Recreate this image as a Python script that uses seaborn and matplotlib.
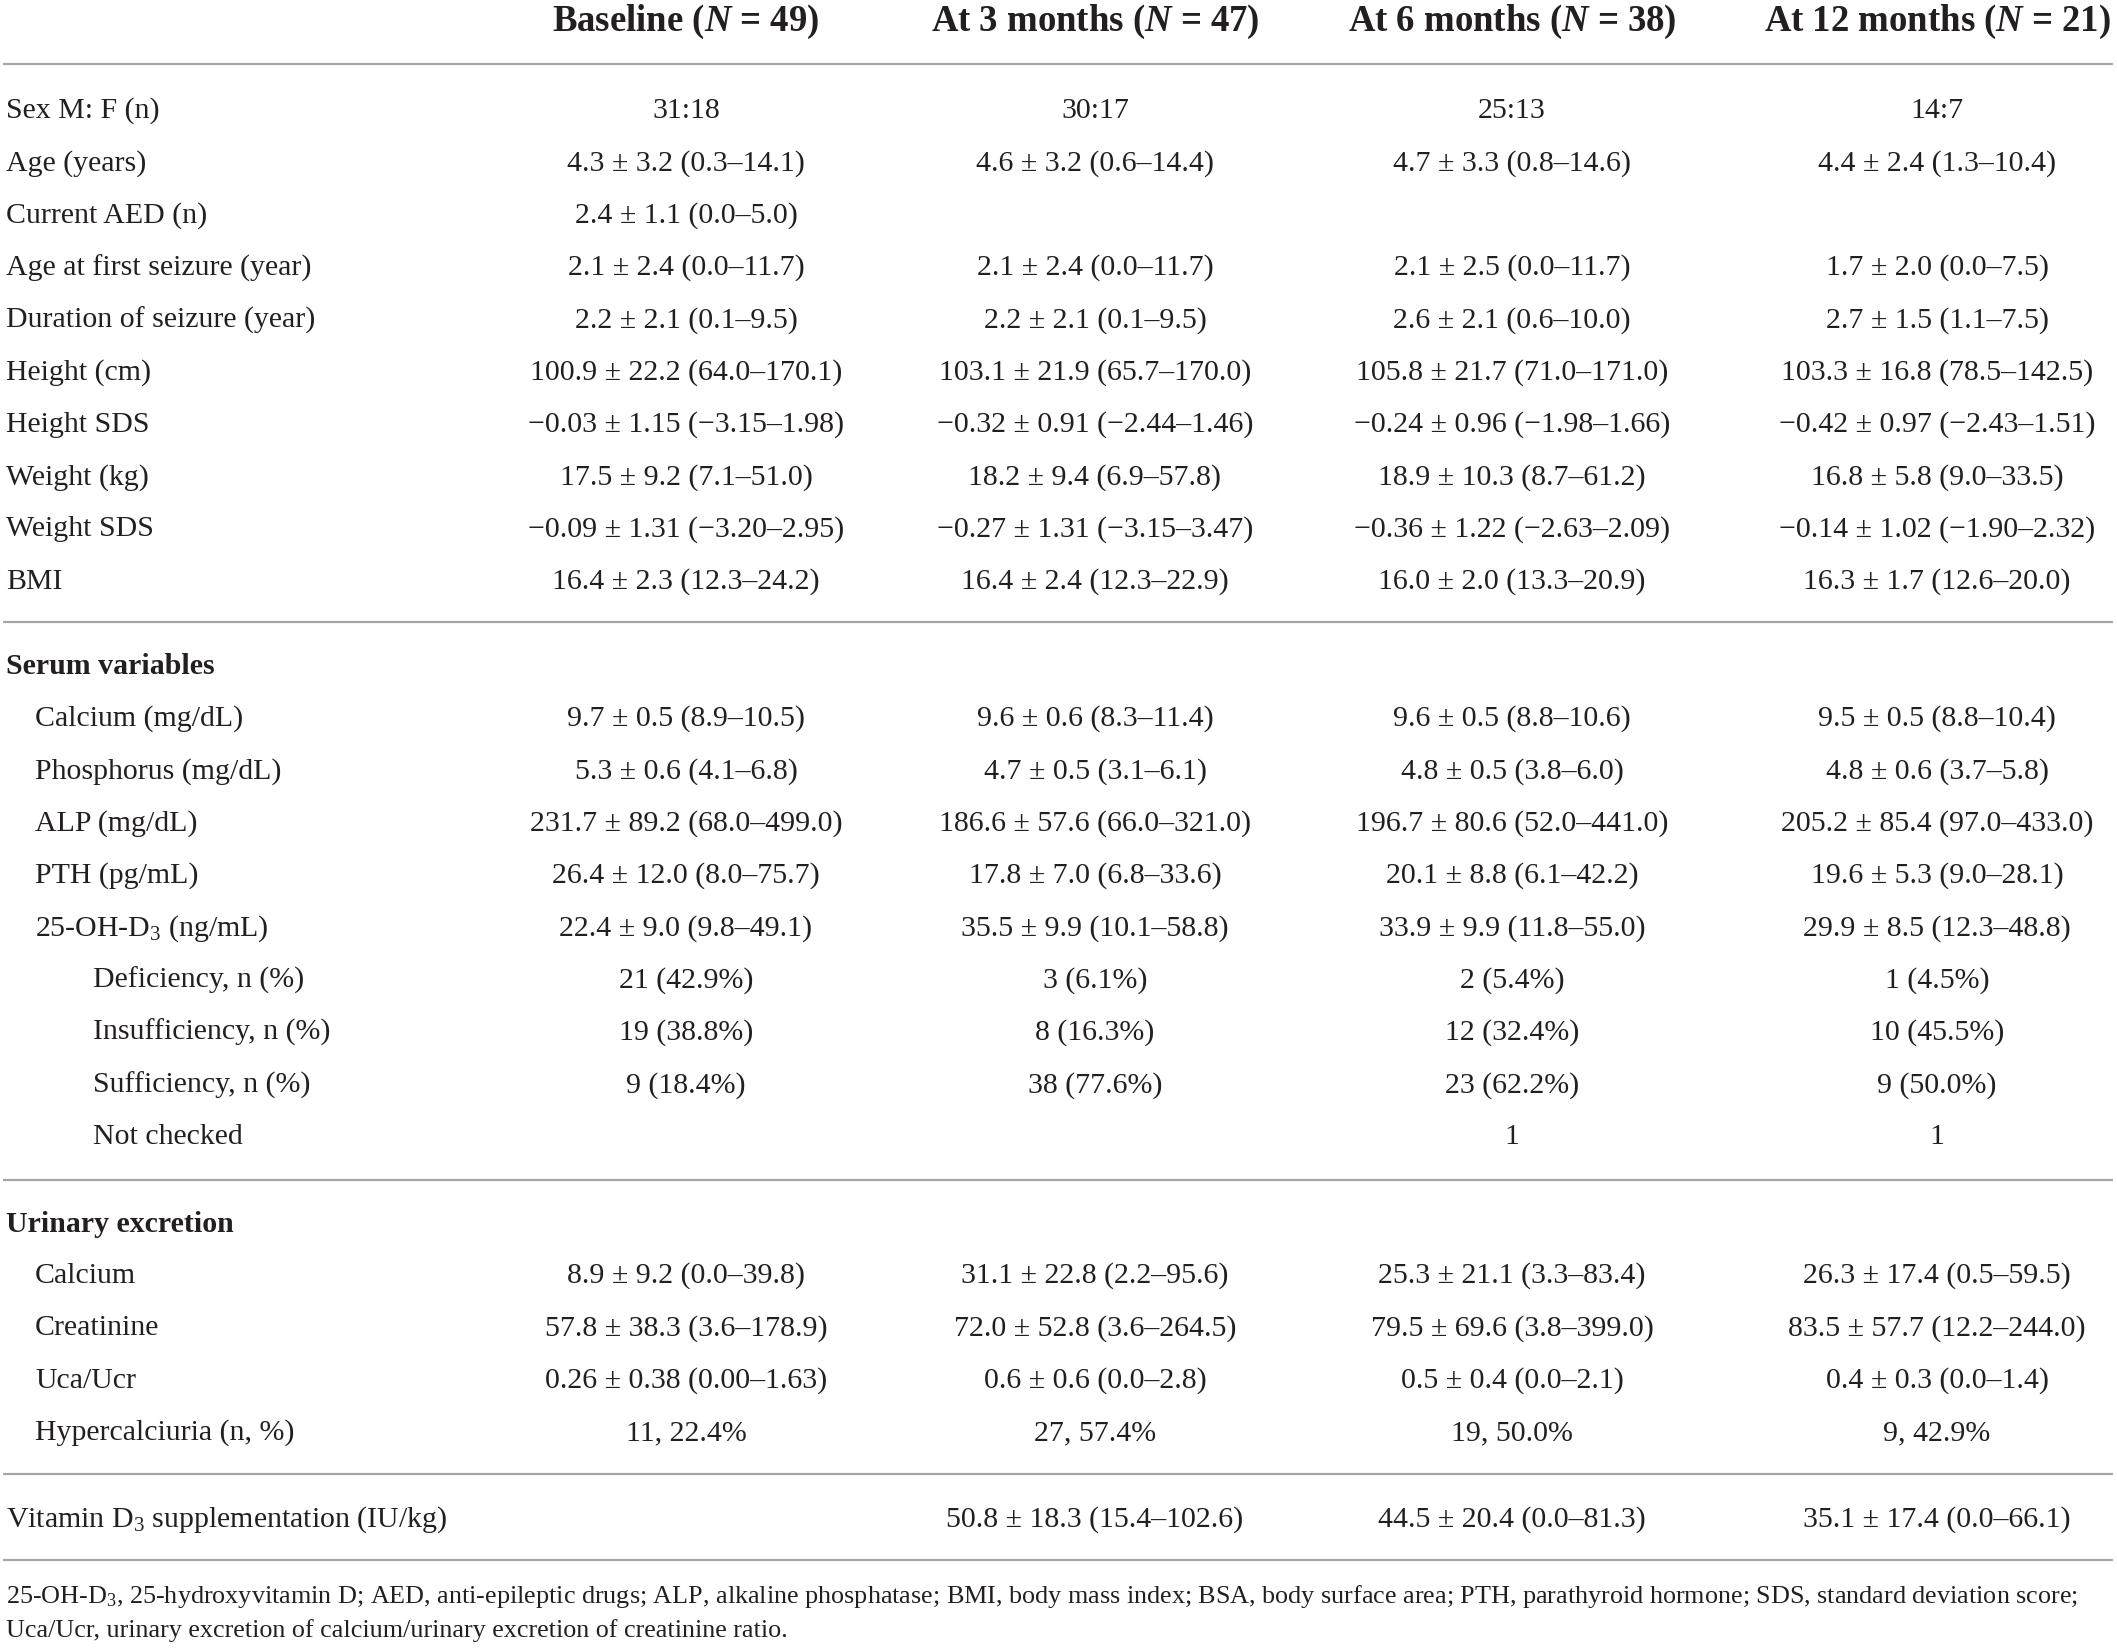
import matplotlib
matplotlib.use("Agg")
import matplotlib.pyplot as plt
import seaborn as sns

# ---------------- data ----------------
columns = ["Baseline", "At 3 months", "At 6 months", "At 12 months"]
group_n = [49, 47, 38, 21]

demo_labels = ["Sex M: F (n)", "Age (years)", "Current AED (n)", "Age at first seizure (year)",
               "Duration of seizure (year)", "Height (cm)", "Height SDS", "Weight (kg)",
               "Weight SDS", "BMI"]
demo_baseline = ["31:18", "4.3 ± 3.2 (0.3–14.1)", "2.4 ± 1.1 (0.0–5.0)", "2.1 ± 2.4 (0.0–11.7)",
                 "2.2 ± 2.1 (0.1–9.5)", "100.9 ± 22.2 (64.0–170.1)", "−0.03 ± 1.15 (−3.15–1.98)",
                 "17.5 ± 9.2 (7.1–51.0)", "−0.09 ± 1.31 (−3.20–2.95)", "16.4 ± 2.3 (12.3–24.2)"]
demo_m3 = ["30:17", "4.6 ± 3.2 (0.6–14.4)", "", "2.1 ± 2.4 (0.0–11.7)",
           "2.2 ± 2.1 (0.1–9.5)", "103.1 ± 21.9 (65.7–170.0)", "−0.32 ± 0.91 (−2.44–1.46)",
           "18.2 ± 9.4 (6.9–57.8)", "−0.27 ± 1.31 (−3.15–3.47)", "16.4 ± 2.4 (12.3–22.9)"]
demo_m6 = ["25:13", "4.7 ± 3.3 (0.8–14.6)", "", "2.1 ± 2.5 (0.0–11.7)",
           "2.6 ± 2.1 (0.6–10.0)", "105.8 ± 21.7 (71.0–171.0)", "−0.24 ± 0.96 (−1.98–1.66)",
           "18.9 ± 10.3 (8.7–61.2)", "−0.36 ± 1.22 (−2.63–2.09)", "16.0 ± 2.0 (13.3–20.9)"]
demo_m12 = ["14:7", "4.4 ± 2.4 (1.3–10.4)", "", "1.7 ± 2.0 (0.0–7.5)",
            "2.7 ± 1.5 (1.1–7.5)", "103.3 ± 16.8 (78.5–142.5)", "−0.42 ± 0.97 (−2.43–1.51)",
            "16.8 ± 5.8 (9.0–33.5)", "−0.14 ± 1.02 (−1.90–2.32)", "16.3 ± 1.7 (12.6–20.0)"]

serum_title = "Serum variables"
serum_labels = ["Calcium (mg/dL)", "Phosphorus (mg/dL)", "ALP (mg/dL)", "PTH (pg/mL)",
                r"25-OH-D$_\mathrm{3}$ (ng/mL)", "Deficiency, n (%)", "Insufficiency, n (%)",
                "Sufficiency, n (%)", "Not checked"]
serum_level = [1, 1, 1, 1, 1, 2, 2, 2, 2]
serum_baseline = ["9.7 ± 0.5 (8.9–10.5)", "5.3 ± 0.6 (4.1–6.8)", "231.7 ± 89.2 (68.0–499.0)",
                  "26.4 ± 12.0 (8.0–75.7)", "22.4 ± 9.0 (9.8–49.1)", "21 (42.9%)",
                  "19 (38.8%)", "9 (18.4%)", ""]
serum_m3 = ["9.6 ± 0.6 (8.3–11.4)", "4.7 ± 0.5 (3.1–6.1)", "186.6 ± 57.6 (66.0–321.0)",
            "17.8 ± 7.0 (6.8–33.6)", "35.5 ± 9.9 (10.1–58.8)", "3 (6.1%)",
            "8 (16.3%)", "38 (77.6%)", ""]
serum_m6 = ["9.6 ± 0.5 (8.8–10.6)", "4.8 ± 0.5 (3.8–6.0)", "196.7 ± 80.6 (52.0–441.0)",
            "20.1 ± 8.8 (6.1–42.2)", "33.9 ± 9.9 (11.8–55.0)", "2 (5.4%)",
            "12 (32.4%)", "23 (62.2%)", "1"]
serum_m12 = ["9.5 ± 0.5 (8.8–10.4)", "4.8 ± 0.6 (3.7–5.8)", "205.2 ± 85.4 (97.0–433.0)",
             "19.6 ± 5.3 (9.0–28.1)", "29.9 ± 8.5 (12.3–48.8)", "1 (4.5%)",
             "10 (45.5%)", "9 (50.0%)", "1"]

urine_title = "Urinary excretion"
urine_labels = ["Calcium", "Creatinine", "Uca/Ucr", "Hypercalciuria (n, %)"]
urine_baseline = ["8.9 ± 9.2 (0.0–39.8)", "57.8 ± 38.3 (3.6–178.9)",
                  "0.26 ± 0.38 (0.00–1.63)", "11, 22.4%"]
urine_m3 = ["31.1 ± 22.8 (2.2–95.6)", "72.0 ± 52.8 (3.6–264.5)", "0.6 ± 0.6 (0.0–2.8)", "27, 57.4%"]
urine_m6 = ["25.3 ± 21.1 (3.3–83.4)", "79.5 ± 69.6 (3.8–399.0)", "0.5 ± 0.4 (0.0–2.1)", "19, 50.0%"]
urine_m12 = ["26.3 ± 17.4 (0.5–59.5)", "83.5 ± 57.7 (12.2–244.0)", "0.4 ± 0.3 (0.0–1.4)", "9, 42.9%"]

vitd_label = r"Vitamin D$_\mathrm{3}$ supplementation (IU/kg)"
vitd_values = ["", "50.8 ± 18.3 (15.4–102.6)", "44.5 ± 20.4 (0.0–81.3)", "35.1 ± 17.4 (0.0–66.1)"]

footnote_lines = [
    r"25-OH-D$_\mathrm{3}$, 25-hydroxyvitamin D; AED, anti-epileptic drugs; ALP, alkaline phosphatase; "
    "BMI, body mass index; BSA, body surface area; PTH, parathyroid hormone; SDS, standard deviation score;",
    "Uca/Ucr, urinary excretion of calcium/urinary excretion of creatinine ratio.",
]

# ---------------- style ----------------
sns.set_theme(style="white")
plt.rcParams["font.family"] = ["Liberation Serif", "DejaVu Serif"]
plt.rcParams["mathtext.fontset"] = "custom"
plt.rcParams["mathtext.rm"] = "Liberation Serif"
plt.rcParams["mathtext.it"] = "Liberation Serif:italic:bold"
plt.rcParams["mathtext.bf"] = "Liberation Serif:bold"

W, H = 2117, 1650
fig = plt.figure(figsize=(W / 100, H / 100), dpi=100)
ax = fig.add_axes([0, 0, 1, 1])
ax.set_xlim(0, W)
ax.set_ylim(H, 0)
ax.axis("off")

TXT = "#231f20"
RULE = "#a6a6a6"
BODY = 21.5
HEAD = 26.5
FOOT = 18.8
col_x = [686, 1095, 1512, 1937]
indent_x = {0: 6, 1: 35, 2: 93}
pitch = 52.3


def rule(y):
    ax.plot([3, W - 4], [y, y], color=RULE, lw=1.6, solid_capstyle="butt")


def row(y, label, values, level=0):
    ax.text(indent_x[level], y, label, ha="left", va="center", fontsize=BODY, color=TXT)
    for x, v in zip(col_x, values):
        if v:
            ax.text(x, y, v, ha="center", va="center", fontsize=BODY, color=TXT)


# header
for x, c, n in zip(col_x, columns, group_n):
    ax.text(x, 22, c + r" ($N$ = " + str(n) + ")", ha="center", va="center",
            fontsize=HEAD, fontweight="bold", color=TXT)
rule(64)

y0 = 111
for i, lab in enumerate(demo_labels):
    row(y0 + i * pitch, lab, [demo_baseline[i], demo_m3[i], demo_m6[i], demo_m12[i]])
rule(622)

ax.text(indent_x[0], 667, serum_title, ha="left", va="center", fontsize=BODY,
        fontweight="bold", color=TXT)
y0 = 719
for i, lab in enumerate(serum_labels):
    row(y0 + i * pitch, lab, [serum_baseline[i], serum_m3[i], serum_m6[i], serum_m12[i]],
        serum_level[i])
rule(1180)

ax.text(indent_x[0], 1225, urine_title, ha="left", va="center", fontsize=BODY,
        fontweight="bold", color=TXT)
y0 = 1276
for i, lab in enumerate(urine_labels):
    row(y0 + i * pitch, lab, [urine_baseline[i], urine_m3[i], urine_m6[i], urine_m12[i]], 1)
rule(1474)

row(1520, vitd_label, vitd_values)
rule(1560)

for k, line in enumerate(footnote_lines):
    ax.text(indent_x[0], 1596 + k * 35, line, ha="left", va="center", fontsize=FOOT, color=TXT)

fig.savefig("out.png", dpi=100, facecolor="white")
